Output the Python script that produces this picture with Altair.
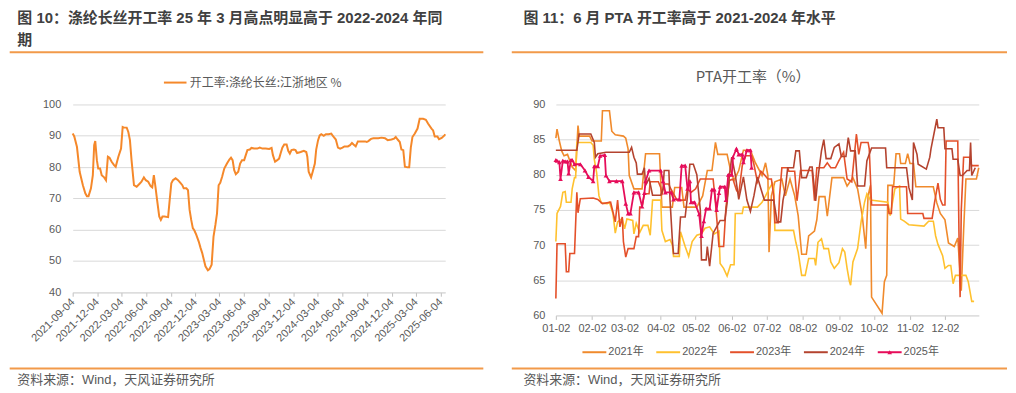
import altair as alt
import pandas as pd

CJK = "Noto Sans CJK SC"
LAT = "Liberation Sans, Noto Sans CJK SC"
GREY = "#595959"
TITLE_C = "#404040"
GRID = "#d9d9d9"
SEP = "#F29A4A"

# ---------------- Figure 10 : polyester filament operating rate ----------------
title_10_l1 = "图 10：涤纶长丝开工率 25 年 3 月高点明显高于 2022-2024 年同"
title_10_l2 = "期"
legend_10 = "开工率:涤纶长丝:江浙地区 %"
source_text = "资料来源：Wind，天风证券研究所"
filament_color = "#F5882A"
left_ticks = ["2021-09-04", "2021-12-04", "2022-03-04", "2022-06-04", "2022-09-04",
              "2022-12-04", "2023-03-04", "2023-06-04", "2023-09-04", "2023-12-04",
              "2024-03-04", "2024-06-04", "2024-09-04", "2024-12-04", "2025-03-04",
              "2025-06-04"]
left_domain = ["2021-09-04", "2025-06-21"]
filament = [
    ("2021-09-04", 90.7), ("2021-09-10", 89.8), ("2021-09-20", 86.4), ("2021-09-30", 78.5),
    ("2021-10-12", 74.2), ("2021-10-21", 71.6), ("2021-10-27", 70.7), ("2021-11-02", 70.7),
    ("2021-11-11", 73.2), ("2021-11-18", 77.4), ("2021-11-23", 87.0), ("2021-11-27", 88.3),
    ("2021-12-03", 82.2), ("2021-12-08", 79.5), ("2021-12-15", 79.5), ("2021-12-21", 77.4),
    ("2021-12-30", 76.7), ("2022-01-06", 75.8), ("2022-01-13", 83.3), ("2022-01-19", 83.0),
    ("2022-01-27", 81.7), ("2022-02-05", 80.6), ("2022-02-11", 80.1), ("2022-02-21", 83.3),
    ("2022-03-03", 85.9), ("2022-03-09", 92.8), ("2022-03-14", 92.6), ("2022-03-24", 92.6),
    ("2022-03-30", 91.2), ("2022-04-05", 88.6), ("2022-04-11", 82.2), ("2022-04-20", 74.2),
    ("2022-04-30", 73.7), ("2022-05-10", 74.6), ("2022-05-18", 75.3), ("2022-05-27", 76.7),
    ("2022-06-03", 75.8), ("2022-06-12", 75.3), ("2022-06-21", 73.9), ("2022-06-27", 73.5),
    ("2022-07-03", 77.4), ("2022-07-09", 73.7), ("2022-07-15", 69.5), ("2022-07-23", 64.2),
    ("2022-07-29", 63.1), ("2022-08-04", 64.2), ("2022-08-12", 64.2), ("2022-08-25", 64.0),
    ("2022-08-31", 69.5), ("2022-09-06", 74.8), ("2022-09-12", 75.8), ("2022-09-22", 76.4),
    ("2022-10-01", 75.8), ("2022-10-09", 75.0), ("2022-10-17", 74.2), ("2022-10-22", 73.2),
    ("2022-11-01", 73.2), ("2022-11-07", 72.6), ("2022-11-13", 66.3), ("2022-11-19", 63.1),
    ("2022-11-25", 60.5), ("2022-12-01", 59.7), ("2022-12-08", 58.3), ("2022-12-17", 56.2),
    ("2022-12-24", 54.1), ("2022-12-30", 52.5), ("2023-01-05", 50.4), ("2023-01-11", 48.3),
    ("2023-01-20", 47.0), ("2023-01-26", 47.4), ("2023-02-03", 48.8), ("2023-02-10", 57.8),
    ("2023-02-17", 61.5), ("2023-02-23", 65.2), ("2023-03-01", 74.2), ("2023-03-07", 75.0),
    ("2023-03-14", 76.9), ("2023-03-22", 79.5), ("2023-04-01", 81.1), ("2023-04-10", 82.4),
    ("2023-04-16", 83.0), ("2023-04-22", 82.2), ("2023-04-28", 79.0), ("2023-05-04", 77.7),
    ("2023-05-13", 78.5), ("2023-05-20", 81.1), ("2023-05-27", 82.2), ("2023-06-04", 82.2),
    ("2023-06-10", 83.8), ("2023-06-16", 85.4), ("2023-06-25", 85.6), ("2023-07-01", 86.1),
    ("2023-07-11", 85.9), ("2023-07-23", 85.9), ("2023-08-01", 86.2), ("2023-08-11", 85.9),
    ("2023-08-23", 85.9), ("2023-09-05", 85.8), ("2023-09-14", 86.1), ("2023-09-19", 83.8),
    ("2023-09-27", 81.7), ("2023-10-05", 82.2), ("2023-10-12", 82.7), ("2023-10-18", 84.5),
    ("2023-10-24", 86.2), ("2023-10-31", 87.2), ("2023-11-09", 87.2), ("2023-11-15", 85.2),
    ("2023-11-21", 84.3), ("2023-11-27", 85.4), ("2023-12-06", 85.6), ("2023-12-12", 85.4),
    ("2023-12-18", 84.5), ("2023-12-31", 84.8), ("2024-01-12", 85.2), ("2024-01-21", 84.8),
    ("2024-01-25", 83.3), ("2024-01-30", 78.5), ("2024-02-08", 76.7), ("2024-02-14", 78.5),
    ("2024-02-22", 81.1), ("2024-02-27", 85.6), ("2024-03-05", 88.6), ("2024-03-11", 90.1),
    ("2024-03-17", 90.5), ("2024-03-26", 90.0), ("2024-04-03", 90.5), ("2024-04-13", 90.5),
    ("2024-04-23", 90.7), ("2024-05-02", 89.6), ("2024-05-10", 88.8), ("2024-05-18", 86.2),
    ("2024-05-26", 85.9), ("2024-06-04", 86.2), ("2024-06-11", 86.6), ("2024-06-24", 86.6),
    ("2024-07-02", 87.0), ("2024-07-09", 87.7), ("2024-07-15", 87.2), ("2024-07-23", 86.6),
    ("2024-07-31", 88.2), ("2024-08-15", 88.2), ("2024-08-27", 88.2), ("2024-09-02", 88.0),
    ("2024-09-08", 88.3), ("2024-09-18", 89.0), ("2024-09-27", 89.2), ("2024-10-15", 89.2),
    ("2024-10-27", 89.4), ("2024-11-09", 89.2), ("2024-11-19", 88.6), ("2024-12-03", 88.8),
    ("2024-12-13", 89.1), ("2024-12-19", 89.6), ("2024-12-26", 88.8), ("2025-01-03", 88.0),
    ("2025-01-09", 85.6), ("2025-01-16", 85.4), ("2025-01-22", 80.1), ("2025-02-01", 79.9),
    ("2025-02-07", 79.9), ("2025-02-13", 86.2), ("2025-02-19", 89.6), ("2025-02-28", 90.7),
    ("2025-03-10", 92.3), ("2025-03-18", 95.4), ("2025-03-31", 95.4), ("2025-04-10", 95.1),
    ("2025-04-18", 93.9), ("2025-05-01", 92.3), ("2025-05-07", 91.7), ("2025-05-13", 89.8),
    ("2025-05-23", 89.8), ("2025-05-29", 88.9), ("2025-06-08", 89.3), ("2025-06-18", 90.1),
    ("2025-06-21", 90.5),
]

# ---------------- Figure 11 : PTA operating rate by year ----------------
title_11 = "图 11：6 月 PTA 开工率高于 2021-2024 年水平"
chart_11_title = "PTA开工率（%）"
year_labels = ["2021年", "2022年", "2023年", "2024年", "2025年"]
year_colors = ["#F08A2C", "#FFC12E", "#E4502A", "#B4432F", "#E60D5A"]
right_ticks = ["01-02", "02-02", "03-02", "04-02", "05-02", "06-02",
               "07-02", "08-02", "09-02", "10-02", "11-02", "12-02"]
right_domain = ["01-02", "12-31"]

pta_2021 = [
    ("01-02", 85.2), ("01-03", 86.5), ("01-05", 84.8), ("01-07", 83.4), ("01-09", 82.7),
    ("01-12", 82.9), ("01-14", 82.0), ("01-16", 81.1), ("01-19", 80.6), ("01-21", 87.0),
    ("01-22", 85.5), ("01-31", 85.5), ("02-02", 84.8), ("02-10", 84.8), ("02-11", 89.1),
    ("02-17", 89.1), ("02-19", 86.2), ("02-22", 85.7), ("03-01", 85.5), ("03-03", 85.2),
    ("03-05", 83.7), ("03-06", 79.9), ("03-10", 78.0), ("03-17", 78.0), ("03-20", 83.0),
    ("04-01", 83.0), ("04-02", 79.2), ("04-03", 75.4), ("04-12", 75.4), ("04-14", 78.2),
    ("04-20", 78.2), ("04-22", 75.4), ("05-03", 75.4), ("05-08", 77.0), ("05-12", 80.6),
    ("05-16", 80.6), ("05-19", 84.6), ("05-21", 82.9), ("05-29", 82.9), ("06-01", 80.6),
    ("06-04", 79.2), ("06-08", 80.6), ("06-12", 83.5), ("06-18", 83.5), ("06-22", 81.8),
    ("06-28", 79.9), ("07-01", 81.7), ("07-03", 79.9), ("07-04", 69.0), ("07-06", 77.0),
    ("07-09", 79.0), ("07-15", 79.4), ("07-18", 77.0), ("07-22", 79.4), ("07-26", 77.0),
    ("07-29", 74.2), ("08-01", 68.7), ("08-05", 68.7), ("08-07", 71.3), ("08-12", 72.0),
    ("08-14", 73.6), ("08-16", 76.9), ("08-21", 76.9), ("08-23", 74.1), ("08-27", 79.6),
    ("09-06", 79.6), ("09-09", 78.4), ("09-14", 79.6), ("09-18", 78.0), ("09-22", 74.2),
    ("09-25", 69.5), ("09-27", 77.0), ("09-29", 78.5), ("09-30", 62.6), ("10-09", 60.3),
    ("10-11", 64.8), ("10-13", 65.7), ("10-14", 78.5), ("10-19", 78.5), ("10-21", 83.0),
    ("10-24", 83.0), ("10-25", 81.6), ("10-29", 81.6), ("10-31", 83.0), ("11-02", 81.6),
    ("11-05", 81.6), ("11-07", 78.3), ("11-22", 78.3), ("11-25", 76.0), ("11-28", 74.5),
    ("12-02", 73.6), ("12-05", 70.3), ("12-10", 69.8), ("12-13", 71.0), ("12-16", 63.5),
    ("12-18", 72.0), ("12-20", 79.4), ("12-29", 79.4), ("12-31", 81.0),
]
pta_2022 = [
    ("01-02", 70.5), ("01-03", 74.5), ("01-06", 75.5), ("01-08", 77.5), ("01-10", 77.6),
    ("01-11", 76.1), ("01-15", 76.1), ("01-16", 78.0), ("01-18", 79.6), ("01-19", 79.6),
    ("01-20", 84.6), ("02-01", 84.6), ("02-03", 84.2), ("02-04", 82.2), ("02-06", 80.3),
    ("02-08", 77.0), ("02-10", 76.0), ("02-15", 75.9), ("02-17", 76.1), ("02-20", 74.5),
    ("02-22", 71.7), ("02-24", 73.3), ("02-28", 73.8), ("03-02", 72.3), ("03-04", 73.7),
    ("03-09", 73.5), ("03-10", 71.6), ("03-12", 73.1), ("03-15", 71.8), ("03-18", 72.8),
    ("03-22", 72.8), ("03-24", 71.4), ("03-26", 76.4), ("04-02", 76.4), ("04-03", 72.1),
    ("04-06", 70.5), ("04-10", 70.8), ("04-12", 70.0), ("04-13", 68.4), ("04-18", 68.4),
    ("04-19", 71.9), ("04-23", 69.8), ("04-26", 68.4), ("04-29", 70.5), ("05-03", 71.4),
    ("05-07", 71.6), ("05-10", 72.4), ("05-14", 72.6), ("05-18", 71.6), ("05-22", 72.0),
    ("05-23", 67.4), ("05-26", 66.7), ("05-29", 65.6), ("06-01", 67.2), ("06-04", 67.2),
    ("06-05", 74.5), ("06-11", 74.5), ("06-12", 75.4), ("06-24", 75.4), ("06-28", 76.1),
    ("07-01", 77.0), ("07-04", 78.0), ("07-07", 78.8), ("07-08", 78.2), ("07-09", 72.1),
    ("07-25", 72.1), ("07-27", 70.4), ("07-29", 69.0), ("08-01", 65.7), ("08-04", 65.7),
    ("08-07", 68.1), ("08-12", 68.1), ("08-13", 67.1), ("08-15", 70.4), ("08-18", 70.9),
    ("08-20", 69.5), ("08-24", 69.5), ("08-26", 67.6), ("08-29", 66.7), ("09-02", 67.5),
    ("09-05", 69.5), ("09-07", 69.0), ("09-09", 66.7), ("09-11", 64.8), ("09-12", 64.3),
    ("09-14", 67.6), ("09-18", 69.5), ("09-21", 73.3), ("09-24", 76.1), ("09-26", 77.3),
    ("09-29", 76.4), ("10-14", 76.1), ("10-16", 74.2), ("10-18", 76.1), ("10-20", 78.0),
    ("10-24", 78.4), ("10-25", 73.7), ("10-28", 73.4), ("11-01", 72.9), ("11-14", 72.7),
    ("11-18", 73.4), ("11-22", 73.4), ("11-24", 71.3), ("11-26", 70.1), ("11-30", 68.5),
    ("12-02", 66.7), ("12-05", 67.1), ("12-07", 67.1), ("12-09", 64.5), ("12-11", 65.7),
    ("12-20", 65.7), ("12-22", 64.8), ("12-25", 62.0), ("12-27", 62.0),
]
pta_2023 = [
    ("01-02", 62.4), ("01-03", 70.2), ("01-10", 70.2), ("01-11", 66.2), ("01-13", 66.2),
    ("01-14", 68.8), ("01-18", 68.8), ("01-20", 77.5), ("01-21", 74.6), ("01-23", 76.6),
    ("02-03", 76.7), ("02-07", 76.5), ("02-11", 75.9), ("02-18", 76.1), ("02-20", 74.7),
    ("02-22", 73.3), ("02-24", 76.4), ("02-26", 72.6), ("02-28", 74.0), ("03-01", 70.5),
    ("03-03", 68.3), ("03-05", 69.5), ("03-10", 69.5), ("03-12", 71.2), ("03-14", 71.2),
    ("03-15", 75.4), ("03-17", 75.4), ("03-19", 77.3), ("03-23", 77.3), ("03-24", 79.0),
    ("03-31", 79.0), ("04-02", 78.2), ("04-03", 77.1), ("04-05", 78.7), ("04-09", 78.7),
    ("04-10", 78.2), ("04-16", 76.4), ("04-23", 76.4), ("04-25", 78.0), ("04-28", 77.5),
    ("05-02", 78.0), ("05-06", 79.4), ("05-17", 79.4), ("05-19", 76.0), ("05-21", 72.0),
    ("05-22", 69.8), ("05-26", 69.8), ("05-28", 75.4), ("05-31", 79.2), ("06-03", 79.4),
    ("06-06", 77.8), ("06-08", 77.3), ("06-11", 81.3), ("06-14", 82.7), ("06-19", 82.7),
    ("06-21", 81.5), ("06-24", 79.0), ("06-27", 80.5), ("06-30", 80.0), ("07-03", 79.4),
    ("07-06", 79.4), ("07-08", 77.0), ("07-09", 73.2), ("07-12", 73.2), ("07-13", 77.0),
    ("07-15", 81.0), ("07-20", 81.0), ("07-21", 80.5), ("07-26", 80.5), ("07-28", 76.3),
    ("07-31", 80.6), ("08-10", 80.6), ("08-12", 76.3), ("08-14", 81.0), ("08-20", 81.0),
    ("08-23", 81.7), ("08-26", 81.0), ("08-30", 81.0), ("09-02", 82.0), ("09-06", 83.2),
    ("09-09", 79.4), ("09-13", 79.0), ("09-17", 85.8), ("09-19", 82.9), ("09-21", 84.6),
    ("09-27", 84.6), ("09-28", 83.7), ("09-30", 75.7), ("10-14", 75.7), ("10-15", 74.5),
    ("10-17", 74.5), ("10-18", 78.3), ("10-30", 78.3), ("10-31", 74.5), ("11-13", 74.5),
    ("11-14", 73.8), ("11-21", 73.8), ("11-23", 76.0), ("11-26", 78.8), ("11-28", 76.5),
    ("11-30", 75.7), ("12-02", 75.7), ("12-03", 84.8), ("12-13", 84.8), ("12-14", 72.0),
    ("12-15", 62.6), ("12-16", 75.0), ("12-18", 82.5), ("12-23", 82.5), ("12-25", 81.3),
    ("12-31", 81.3),
]
pta_2024 = [
    ("01-02", 83.5), ("01-20", 83.5), ("01-22", 85.8), ("02-01", 85.8), ("02-04", 84.6),
    ("02-05", 82.5), ("02-07", 83.0), ("02-14", 83.2), ("03-06", 83.2), ("03-08", 83.9),
    ("03-10", 82.5), ("03-12", 81.7), ("03-13", 80.1), ("03-17", 80.1), ("03-19", 81.0),
    ("03-20", 78.5), ("03-23", 79.5), ("03-26", 77.1), ("04-02", 77.1), ("04-04", 78.0),
    ("04-05", 80.6), ("04-09", 80.6), ("04-10", 76.4), ("04-12", 70.7), ("04-13", 68.8),
    ("04-17", 68.8), ("04-19", 74.0), ("04-23", 74.0), ("04-25", 77.0), ("04-27", 81.5),
    ("04-30", 81.5), ("05-03", 80.0), ("05-06", 75.0), ("05-07", 67.9), ("05-11", 67.9),
    ("05-12", 69.8), ("05-14", 67.0), ("05-17", 71.7), ("05-20", 72.6), ("05-23", 73.5),
    ("05-27", 73.5), ("05-29", 76.0), ("05-31", 80.0), ("06-02", 82.5), ("06-05", 80.0),
    ("06-08", 76.5), ("06-12", 79.7), ("06-15", 76.4), ("06-18", 74.8), ("06-21", 77.0),
    ("06-24", 79.7), ("06-27", 78.0), ("06-30", 76.4), ("07-08", 76.4), ("07-11", 73.3),
    ("07-14", 73.3), ("07-16", 76.4), ("07-18", 78.0), ("07-20", 81.0), ("07-25", 81.0),
    ("07-27", 83.4), ("07-30", 83.4), ("08-01", 79.6), ("08-05", 79.6), ("08-08", 81.1),
    ("08-10", 81.1), ("08-13", 76.3), ("08-15", 79.6), ("08-18", 83.4), ("08-20", 85.0),
    ("08-22", 82.3), ("08-26", 82.3), ("08-29", 83.9), ("09-02", 84.4), ("09-04", 82.6),
    ("09-08", 82.6), ("09-10", 85.3), ("09-12", 83.4), ("09-16", 83.4), ("09-18", 78.4),
    ("09-24", 78.4), ("09-26", 82.0), ("09-30", 83.8), ("10-12", 83.8), ("10-13", 81.0),
    ("10-30", 81.0), ("11-01", 78.2), ("11-04", 76.4), ("11-05", 84.6), ("11-08", 82.9),
    ("11-09", 81.5), ("11-16", 80.8), ("11-19", 82.5), ("11-20", 83.7), ("11-25", 87.9),
    ("11-26", 86.7), ("12-01", 86.7), ("12-02", 83.7), ("12-08", 83.7), ("12-09", 82.2),
    ("12-13", 82.2), ("12-15", 79.9), ("12-17", 79.9), ("12-21", 80.6), ("12-23", 80.6),
    ("12-24", 84.6), ("12-25", 79.9), ("12-28", 81.0),
]
pta_2025 = [
    ("01-02", 82.1), ("01-03", 82.0), ("01-05", 81.8), ("01-06", 79.4), ("01-08", 82.0),
    ("01-10", 81.9), ("01-12", 81.9), ("01-13", 80.2), ("01-15", 82.1), ("01-16", 82.1),
    ("01-18", 81.5), ("01-23", 81.5), ("01-27", 80.6), ("01-30", 79.7), ("02-03", 79.1),
    ("02-04", 81.2), ("02-07", 81.2), ("02-09", 82.7), ("02-13", 82.8), ("02-14", 79.9),
    ("02-17", 79.1), ("02-23", 79.1), ("02-28", 79.1), ("03-03", 75.9), ("03-05", 74.5),
    ("03-07", 74.5), ("03-10", 77.5), ("03-14", 77.5), ("03-17", 75.5), ("03-19", 77.4),
    ("03-20", 79.1), ("03-23", 80.6), ("04-02", 80.6), ("04-04", 79.1), ("04-06", 77.5),
    ("04-11", 77.5), ("04-13", 76.5), ("04-18", 76.5), ("04-20", 81.3), ("04-23", 81.3),
    ("04-25", 78.0), ("04-27", 79.1), ("04-28", 76.1), ("05-01", 76.1), ("05-05", 74.4),
    ("05-07", 71.3), ("05-09", 73.4), ("05-11", 75.2), ("05-14", 75.2), ("05-16", 77.9),
    ("05-18", 77.9), ("05-20", 75.0), ("05-22", 77.4), ("05-23", 78.3), ("05-27", 78.3),
    ("05-28", 76.4), ("05-30", 80.0), ("06-02", 80.0), ("06-03", 82.5), ("06-06", 83.7),
    ("06-08", 82.9), ("06-11", 82.9), ("06-12", 81.8), ("06-15", 83.5), ("06-18", 83.5),
    ("06-19", 81.0),
]
pta_series = [pta_2021, pta_2022, pta_2023, pta_2024, pta_2025]

# ---------------- helpers ----------------
def dt(s):
    y, m, d = (int(p) for p in s.split("-"))
    return alt.DateTime(year=y, month=m, date=d)

ONE = alt.Data(values=[{"t": ""}])

def text_layer(s, x, y, size, color, weight="normal", align="left", font=CJK):
    return alt.Chart(alt.Data(values=[{"t": s}])).mark_text(
        align=align, baseline="middle", fontSize=size, fontWeight=weight,
        color=color, font=font
    ).encode(x=alt.value(x), y=alt.value(y), text="t:N")

def hline(x1, x2, y, color, w):
    return alt.Chart(ONE).mark_rule(color=color, strokeWidth=w).encode(
        x=alt.value(x1), x2=alt.value(x2), y=alt.value(y))

# ---------------- left panel ----------------
W1, H1 = 374.4, 188.7
left_df = pd.DataFrame(filament, columns=["date", "rate"])
left_df["date"] = pd.to_datetime(left_df["date"])

xL = alt.X("date:T",
           scale=alt.Scale(domain=[dt(s) for s in left_domain], nice=False),
           axis=alt.Axis(values=[dt(s) for s in left_ticks], format="%Y-%m-%d",
                         labelAngle=-45, labelAlign="right", labelBaseline="middle",
                         labelPadding=4, tickSize=4, tickColor="#bfbfbf",
                         domainColor=GRID, grid=False, labelOverlap=False,
                         labelFlush=False,
                         labelColor=GREY, labelFont="Liberation Sans",
                         labelFontSize=11, title=None))
yL = alt.Y("rate:Q", scale=alt.Scale(domain=[40, 100], nice=False),
           axis=alt.Axis(values=list(range(40, 101, 10)), grid=True, gridColor=GRID,
                         domain=False, ticks=False, labelPadding=12,
                         labelColor=GREY, labelFont="Liberation Sans",
                         labelFontSize=11, title=None))

left_line = alt.Chart(left_df).mark_line(color=filament_color, strokeWidth=2).encode(x=xL, y=yL)

left = alt.layer(
    left_line,
    hline(-63.8, -60, -95.5, "white", 1),
    text_layer(title_10_l1, -55.6, -86.5, 15, TITLE_C, weight="bold", font=LAT),
    text_layer(title_10_l2, -55.6, -65, 15, TITLE_C, weight="bold", font=LAT),
    hline(-63.3, 412.7, -52.5, SEP, 2),
    hline(91.7, 114.4, -22, filament_color, 2),
    text_layer(legend_10, 117.7, -22, 12, GREY),
    hline(-63.3, 412.7, 265.3, SEP, 2),
    text_layer(source_text, -55.6, 277, 13, GREY, font=LAT),
).properties(width=W1, height=H1)

# ---------------- right panel ----------------
W2, H2 = 425, 212
frames = []
for lab, ser in zip(year_labels, pta_series):
    d = pd.DataFrame(ser, columns=["md", "val"])
    d["md"] = pd.to_datetime("2001-" + d["md"])
    d["year"] = lab
    frames.append(d)

xR = alt.X("md:T",
           scale=alt.Scale(domain=[dt("2001-" + s) for s in right_domain], nice=False),
           axis=alt.Axis(values=[dt("2001-" + s) for s in right_ticks], format="%m-%d",
                         labelAngle=0, labelAlign="center", labelPadding=3, tickSize=4,
                         tickColor="#bfbfbf", labelFlush=False,
                         domainColor=GRID, grid=False, labelOverlap=False,
                         labelColor=GREY, labelFont="Liberation Sans",
                         labelFontSize=11, title=None))
yR = alt.Y("val:Q", scale=alt.Scale(domain=[60, 90], nice=False),
           axis=alt.Axis(values=list(range(60, 91, 5)), grid=True, gridColor=GRID,
                         domain=False, ticks=False, labelPadding=11,
                         labelColor=GREY, labelFont="Liberation Sans",
                         labelFontSize=11, title=None))

right_layers = []
for i, (lab, col, d) in enumerate(zip(year_labels, year_colors, frames)):
    if i < 4:
        m = alt.Chart(d).mark_line(color=col, strokeWidth=1.6)
    else:
        m = alt.Chart(d).mark_line(
            color=col, strokeWidth=1.8,
            point=alt.OverlayMarkDef(shape="triangle-up", size=22, filled=True,
                                     color=col, fill=col))
    right_layers.append(m.encode(x=xR, y=yR))

# legend (custom, below the plot)
leg_y = 249
leg_x0 = 26.7
leg_step = 74.2
for i, (lab, col) in enumerate(zip(year_labels, year_colors)):
    x0 = leg_x0 + i * leg_step
    right_layers.append(hline(x0, x0 + 24, leg_y, col, 2))
    right_layers.append(text_layer(lab, x0 + 26, leg_y, 11, GREY, font=LAT))
    if i == 4:
        right_layers.append(
            alt.Chart(ONE).mark_point(shape="triangle-up", size=22, filled=True,
                                      color=col, opacity=1)
            .encode(x=alt.value(x0 + 12), y=alt.value(leg_y)))

right_layers += [
    text_layer(title_11, -32.6, -86.5, 15, TITLE_C, weight="bold", font=LAT),
    hline(-44.3, 453.4, -52.5, SEP, 2),
    text_layer(chart_11_title, 198.2, -28, 15, GREY, align="center"),
    hline(-44.3, 453.4, 265.3, SEP, 2),
    text_layer(source_text, -32.6, 277, 13, GREY, font=LAT),
]

right = alt.layer(*right_layers).properties(width=W2, height=H2)

chart = alt.hconcat(left, right, spacing=110.6, bounds="flush", padding=0).configure_view(strokeWidth=0)

chart.save("out.html", embed_options={"renderer": "svg", "actions": False})
